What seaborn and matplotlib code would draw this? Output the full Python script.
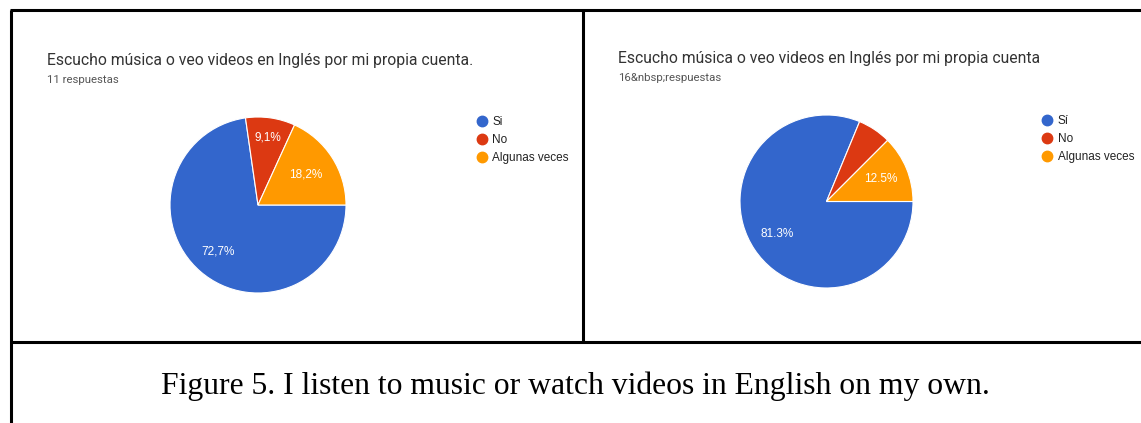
import matplotlib
matplotlib.use("Agg")
import matplotlib.pyplot as plt
from matplotlib.lines import Line2D
import numpy as np
import seaborn as sns

# data
categories = ["Si", "No", "Algunas veces"]
categories_2 = ["Sí", "No", "Algunas veces"]
values_1 = [8, 1, 2]      # 11 respuestas
values_2 = [13, 1, 2]     # 16 respuestas
labels_1 = ["72,7%", "9,1%", "18,2%"]
labels_2 = ["81.3%", "", "12.5%"]
title_1 = "Escucho música o veo videos en Inglés por mi propia cuenta."
title_2 = "Escucho música o veo videos en Inglés por mi propia cuenta"
sub_1 = "11 respuestas"
sub_2 = "16&nbsp;respuestas"
caption = "Figure 5. I listen to music or watch videos in English on my own."

sns.set_theme(style="white")
colors = sns.color_palette(["#3366CC", "#DC3912", "#FF9900"])

W, H = 1141, 423
fig = plt.figure(figsize=(W / 100, H / 100), dpi=100)
fig.patch.set_facecolor("white")


def px_rect(x0, y0, w, h):
    # rectangle given in pixels from the top left corner
    return [x0 / W, 1 - (y0 + h) / H, w / W, h / H]


def draw_pie(rect, values, labels, dists):
    ax = fig.add_axes(rect)
    wedges, _ = ax.pie(values, colors=colors, startangle=0, counterclock=False,
                       wedgeprops=dict(edgecolor="white", linewidth=0.8))
    for w, lab, d in zip(wedges, labels, dists):
        if not lab:
            continue
        ang = np.deg2rad((w.theta1 + w.theta2) / 2)
        ax.text(d * np.cos(ang), d * np.sin(ang), lab,
                ha="center", va="center", color="white", fontsize=8.5,
                family="Liberation Sans")
    ax.set_xlim(-1, 1)
    ax.set_ylim(-1, 1)
    ax.set_aspect("equal")
    ax.axis("off")
    return ax


draw_pie(px_rect(170, 117, 176, 176), values_1, labels_1, [0.7, 0.78, 0.64])
draw_pie(px_rect(740, 115, 173, 173), values_2, labels_2, [0.68, 0.68, 0.68])

# titles
title_kw = dict(fontsize=11.3, family="Roboto", color="#333333", va="center")
sub_kw = dict(fontsize=8.2, family="Roboto", color="#555555", va="center")
fig.text(47 / W, 1 - 60 / H, title_1, **title_kw)
fig.text(47 / W, 1 - 80 / H, sub_1, **sub_kw)
fig.text(618 / W, 1 - 58 / H, title_2, **title_kw)
fig.text(618 / W, 1 - 78 / H, sub_2, **sub_kw)


def add_legend(x, y, names):
    handles = [Line2D([], [], marker="o", linestyle="", markersize=7.5,
                      markerfacecolor=c, markeredgecolor=c) for c in colors]
    fig.legend(handles, names, loc="upper left", bbox_to_anchor=(x / W, 1 - y / H),
               frameon=False, handletextpad=0.3, labelspacing=0.52,
               borderaxespad=0, borderpad=0, handlelength=1.2,
               prop=dict(family="Liberation Sans", size=8.5),
               labelcolor="#222222")


add_legend(474.5, 116, categories)
add_legend(1040, 115, categories_2)

# caption
fig.text(575 / W, 1 - 394 / H, caption, fontsize=22.8, family="Liberation Serif",
         color="black", ha="center", va="baseline")

# table borders
lw = 2.2
for xs, ys in [([10, W], [10.5, 10.5]),
               ([10.5, 10.5], [10, H]),
               ([582.5, 582.5], [10, 341]),
               ([10, W], [341.5, 341.5])]:
    fig.add_artist(Line2D([x / W for x in xs], [1 - y / H for y in ys],
                          color="black", linewidth=lw, solid_capstyle="butt"))

fig.savefig("out.png", dpi=100, facecolor="white")
